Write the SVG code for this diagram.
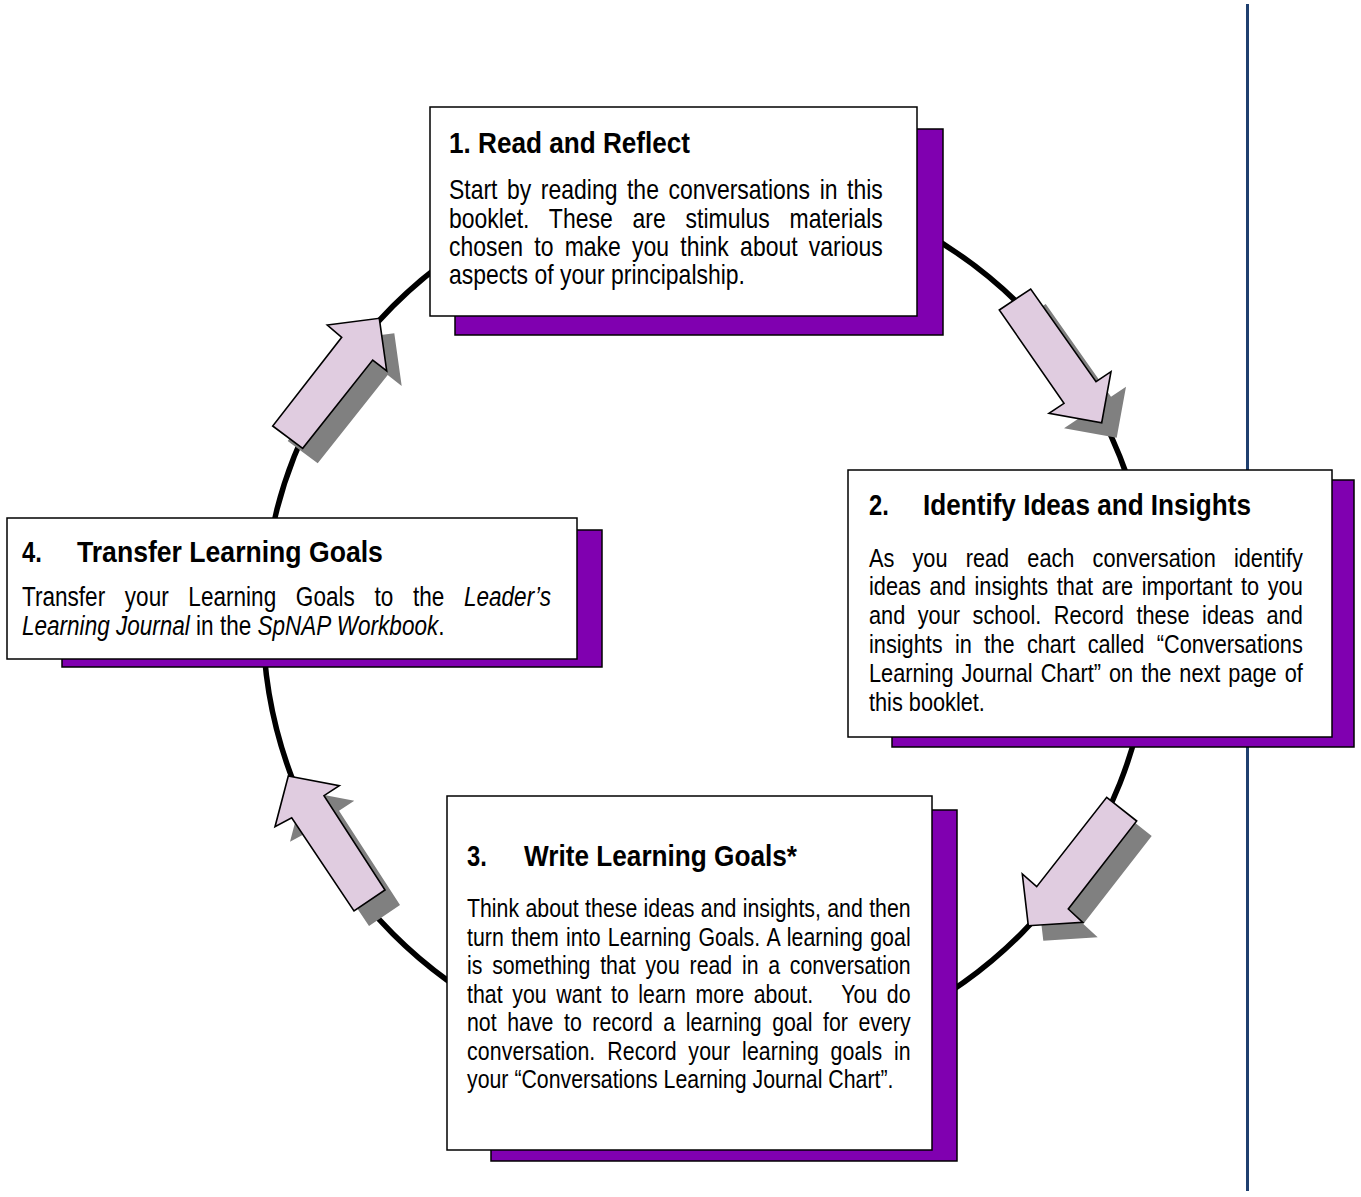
<svg xmlns="http://www.w3.org/2000/svg" xmlns:xlink="http://www.w3.org/1999/xlink" width="1361" height="1197" viewBox="0 0 1361 1197">
<style>
.bg{fill:#ffffff}
.sh{fill:#8000B0;stroke:#000;stroke-width:1.5}
.box{fill:#ffffff;stroke:#000;stroke-width:1.5}
.arr{fill:#E0CCE0;stroke:#000;stroke-width:1.6;stroke-linejoin:miter}
.ash{fill:#808080}
.t{font-family:"Liberation Sans","Arial",sans-serif;fill:#000}
.h{font-weight:bold;font-size:29px}
.b1{font-size:28px}
.b2{font-size:26.5px}
.b3{font-size:26px}
.b4{font-size:27.5px}
.i{font-style:italic}
</style>
<defs>
<polygon id="a1" points="379.3,318.3 386.7,371 372.7,360 302.7,448.3 272.7,426 341.7,337.3 327.3,325"/>
<polygon id="a2" points="999.3,310 1030.7,289 1096,381.7 1111,371.7 1101.7,422.7 1049,413.3 1064,403.3"/>
<polygon id="a3" points="1106.7,797.3 1136.7,821 1068.3,909 1082.7,922.3 1028.3,925.7 1022.3,874 1036.7,886.7"/>
<polygon id="a4" points="288.3,776 339.3,785.7 324,795.7 385,890 354,911 291.7,817.7 275,826.7"/>
</defs>
<rect class="bg" x="0" y="0" width="1361" height="1197"/>
<line x1="1247.5" y1="4" x2="1247.5" y2="1191" stroke="#1F3F6F" stroke-width="3"/>
<g id="connectors">
<circle cx="707" cy="620" r="444" fill="none" stroke="#000" stroke-width="5.5"/>
<use xlink:href="#a1" class="ash" transform="translate(15,15)"/>
<use xlink:href="#a1" class="arr"/>
<use xlink:href="#a2" class="ash" transform="translate(15,15)"/>
<use xlink:href="#a2" class="arr"/>
<use xlink:href="#a3" class="ash" transform="translate(15,15)"/>
<use xlink:href="#a3" class="arr"/>
<use xlink:href="#a4" class="ash" transform="translate(15,15)"/>
<use xlink:href="#a4" class="arr"/>
</g>
<g id="node1">
<rect class="sh" x="455" y="129" width="488" height="206"/>
<rect class="box" x="430" y="107" width="487" height="209"/>
<text class="t h" transform="translate(449,153) scale(0.82,1)" textLength="294" lengthAdjust="spacingAndGlyphs">1. Read and Reflect</text>
<text class="t b1" transform="translate(449,199) scale(0.82,1)" word-spacing="3.9" textLength="529" lengthAdjust="spacing">Start by reading the conversations in this</text>
<text class="t b1" transform="translate(449,228) scale(0.82,1)" word-spacing="16.4" textLength="529" lengthAdjust="spacing">booklet. These are stimulus materials</text>
<text class="t b1" transform="translate(449,256) scale(0.82,1)" word-spacing="6" textLength="529" lengthAdjust="spacing">chosen to make you think about various</text>
<text class="t b1" transform="translate(449,284) scale(0.82,1)">aspects of your principalship.</text>
</g>
<g id="node2">
<rect class="sh" x="892" y="480" width="462" height="267"/>
<rect class="box" x="848" y="470" width="484" height="267"/>
<text class="t h" transform="translate(869,515) scale(0.82,1)">2.</text>
<text class="t h" transform="translate(923,515) scale(0.82,1)" textLength="400" lengthAdjust="spacingAndGlyphs">Identify Ideas and Insights</text>
<text class="t b2" transform="translate(869,567) scale(0.82,1)" word-spacing="14.8" textLength="529" lengthAdjust="spacing">As you read each conversation identify</text>
<text class="t b2" transform="translate(869,595) scale(0.82,1)" word-spacing="3.2" textLength="529" lengthAdjust="spacing">ideas and insights that are important to you</text>
<text class="t b2" transform="translate(869,624) scale(0.82,1)" word-spacing="7.9" textLength="529" lengthAdjust="spacing">and your school. Record these ideas and</text>
<text class="t b2" transform="translate(869,653) scale(0.82,1)" word-spacing="7.8" textLength="529" lengthAdjust="spacing">insights in the chart called “Conversations</text>
<text class="t b2" transform="translate(869,682) scale(0.82,1)" word-spacing="2.4" textLength="529" lengthAdjust="spacing">Learning Journal Chart” on the next page of</text>
<text class="t b2" transform="translate(869,711) scale(0.82,1)">this booklet.</text>
</g>
<g id="node4">
<rect class="sh" x="62" y="530" width="540" height="137"/>
<rect class="box" x="7" y="518" width="570" height="141"/>
<text class="t h" transform="translate(22,562) scale(0.82,1)">4.</text>
<text class="t h" transform="translate(77,562) scale(0.82,1)" textLength="373" lengthAdjust="spacingAndGlyphs">Transfer Learning Goals</text>
<text class="t b4" transform="translate(22,606) scale(0.82,1)" word-spacing="16.3" textLength="645" lengthAdjust="spacing">Transfer your Learning Goals to the <tspan class="i">Leader’s</tspan></text>
<text class="t b4" transform="translate(22,635) scale(0.82,1)"><tspan class="i">Learning Journal</tspan> in the <tspan class="i">SpNAP Workbook</tspan>.</text>
</g>
<g id="node3">
<rect class="sh" x="491" y="810" width="466" height="351"/>
<rect class="box" x="447" y="796" width="485" height="354"/>
<text class="t h" transform="translate(467,866) scale(0.82,1)">3.</text>
<text class="t h" transform="translate(524,866) scale(0.82,1)" textLength="333" lengthAdjust="spacingAndGlyphs">Write Learning Goals*</text>
<text class="t b3" transform="translate(467,917) scale(0.82,1)" word-spacing="0.5" textLength="541" lengthAdjust="spacing">Think about these ideas and insights, and then</text>
<text class="t b3" transform="translate(467,946) scale(0.82,1)" word-spacing="1.6" textLength="541" lengthAdjust="spacing">turn them into Learning Goals. A learning goal</text>
<text class="t b3" transform="translate(467,974) scale(0.82,1)" word-spacing="4.7" textLength="541" lengthAdjust="spacing">is something that you read in a conversation</text>
<text class="t b3" transform="translate(467,1003) scale(0.82,1)" word-spacing="4.3" textLength="541" lengthAdjust="spacing" xml:space="preserve">that you want to learn more about.   You do</text>
<text class="t b3" transform="translate(467,1031) scale(0.82,1)" word-spacing="5.7" textLength="541" lengthAdjust="spacing">not have to record a learning goal for every</text>
<text class="t b3" transform="translate(467,1060) scale(0.82,1)" word-spacing="6.9" textLength="541" lengthAdjust="spacing">conversation. Record your learning goals in</text>
<text class="t b3" transform="translate(467,1088) scale(0.82,1)">your “Conversations Learning Journal Chart”.</text>
</g>
</svg>
